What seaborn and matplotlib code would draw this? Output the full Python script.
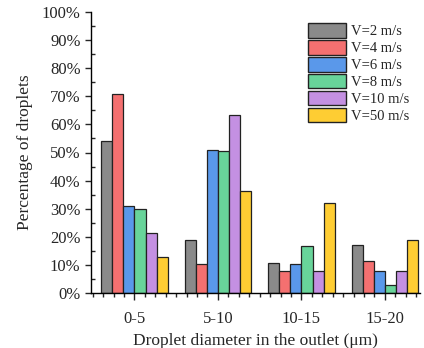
import numpy as np
import pandas as pd
import matplotlib
matplotlib.use("Agg")
import matplotlib.pyplot as plt
import seaborn as sns
from matplotlib.ticker import PercentFormatter, MultipleLocator

categories = ["0-5", "5-10", "10-15", "15-20"]
series_names = ["V=2 m/s", "V=4 m/s", "V=6 m/s", "V=8 m/s", "V=10 m/s", "V=50 m/s"]
v2 = [54.0, 18.9, 10.6, 17.0]
v4 = [70.7, 10.2, 8.0, 11.3]
v6 = [31.1, 51.0, 10.3, 7.7]
v8 = [30.0, 50.7, 16.6, 2.9]
v10 = [21.4, 63.4, 8.0, 7.7]
v50 = [12.8, 36.4, 32.1, 18.9]
colors = ["#8a8a8a", "#f47070", "#5a98ea", "#68d49a", "#c490e2", "#fecd33"]

series_values = [v2, v4, v6, v8, v10, v50]
rows = []
for name, vals in zip(series_names, series_values):
    for c, v in zip(categories, vals):
        rows.append({"cat": c, "series": name, "value": v})
df = pd.DataFrame(rows)

sns.set_style("ticks")
plt.rcParams["font.family"] = ["Liberation Serif", "DejaVu Serif"]

fig = plt.figure(figsize=(4.24, 3.48), dpi=100)
ax = fig.add_axes([91/424, 1-293/348, 329/424, 281/348])

sns.barplot(data=df, x="cat", y="value", hue="series", order=categories,
            hue_order=series_names, palette=colors, width=0.8, saturation=1,
            edgecolor="#222222", linewidth=0.9, ax=ax, legend=True)

ax.set_xlim(-0.52, 3.42)
ax.set_ylim(0, 100)
ax.yaxis.set_major_locator(MultipleLocator(10))
ax.yaxis.set_minor_locator(MultipleLocator(5))
ax.yaxis.set_major_formatter(PercentFormatter(decimals=0))
ax.tick_params(axis="y", which="major", direction="out", length=4, width=1, labelsize=12)
ax.tick_params(axis="y", which="minor", direction="in", length=3, width=1)
ax.xaxis.set_minor_locator(MultipleLocator(0.125))
ax.tick_params(axis="x", which="major", direction="out", length=5, width=1, labelsize=12, pad=8)
ax.tick_params(axis="x", which="minor", direction="out", length=3, width=1)
ax.set_xlabel("Droplet diameter in the outlet (\u03bcm)", fontsize=12.5, labelpad=4)
ax.set_ylabel("Percentage of droplets", fontsize=12.5, labelpad=6)
for s in ["top", "right"]:
    ax.spines[s].set_visible(False)
for s in ["left", "bottom"]:
    ax.spines[s].set_linewidth(1.0)
    ax.spines[s].set_color("black")

leg = ax.legend(loc="upper left", bbox_to_anchor=(298/424, 1-13/348),
                bbox_transform=fig.transFigure, frameon=False, fontsize=10.5,
                handlelength=2.6, handleheight=1.15, labelspacing=0.12,
                handletextpad=0.3, borderpad=0.2)
for h in leg.get_patches():
    h.set_edgecolor("#222222")
    h.set_linewidth(1.0)

fig.savefig("out.png", dpi=100)
